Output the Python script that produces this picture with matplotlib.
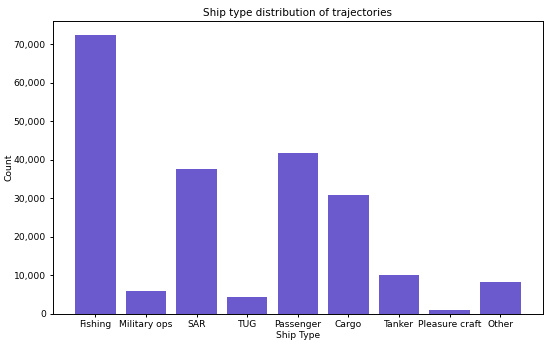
import matplotlib.pyplot as plt
from matplotlib.ticker import FuncFormatter

ship_types = ['Fishing', 'Military ops', 'SAR', 'TUG', 'Passenger',
              'Cargo', 'Tanker', 'Pleasure craft', 'Other']
counts = [72400, 5900, 37500, 4250, 41800, 30800, 9970, 950, 8070]

fig = plt.figure(figsize=(5.5, 3.45), dpi=100)
ax = fig.add_axes([0.096, 0.0913, 0.891, 0.847])

ax.bar(ship_types, counts, color='slateblue')

ax.set_title('Ship type distribution of trajectories', fontsize=7.5, pad=4)
ax.set_xlabel('Ship Type', fontsize=6.6, labelpad=1)
ax.set_ylabel('Count', fontsize=6.6, labelpad=0)
ax.yaxis.set_major_formatter(FuncFormatter(lambda v, p: f'{int(v):,}'))
ax.tick_params(labelsize=6.6, length=2.5, width=0.7, pad=2.5)
for s in ax.spines.values():
    s.set_linewidth(0.7)

fig.savefig('out.png', dpi=100)
